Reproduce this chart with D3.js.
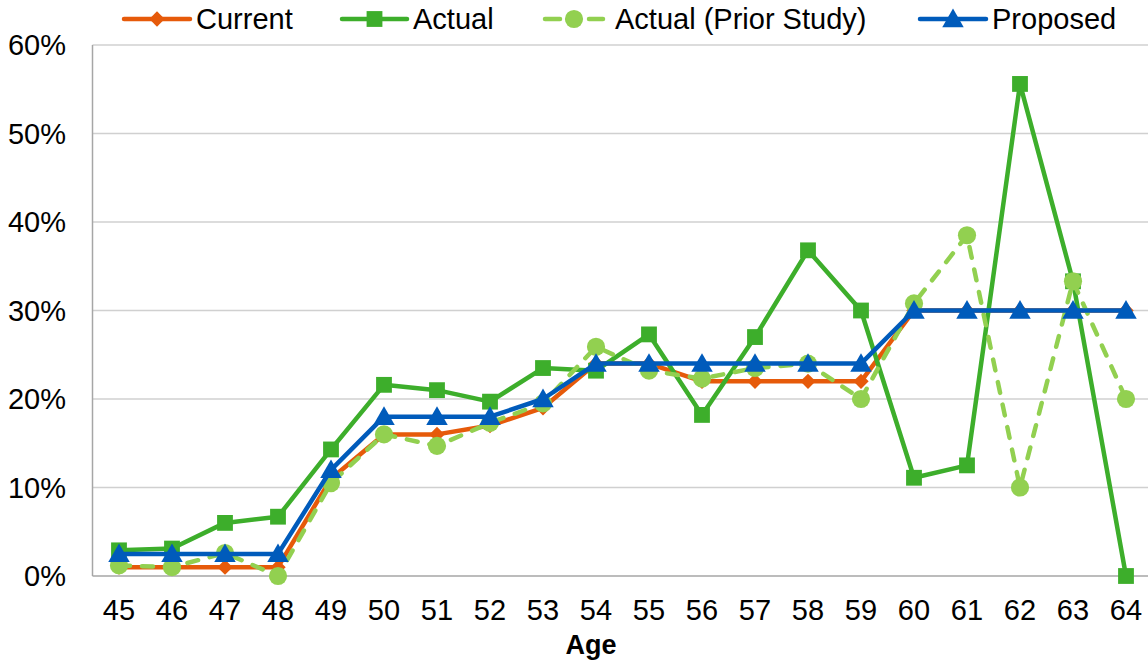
<!DOCTYPE html>
<html>
<head>
<meta charset="utf-8">
<script src="https://cdn.jsdelivr.net/npm/d3@7"></script>
<style>
  body { margin: 0; background: #fff; }
  svg { display: block; font-family: "Liberation Sans", Arial, sans-serif; }
</style>
</head>
<body>
<svg id="chart" width="1148" height="663"></svg>
<script>
// Chart values
var ages = [45, 46, 47, 48, 49, 50, 51, 52, 53, 54, 55, 56, 57, 58, 59, 60, 61, 62, 63, 64];
var current = [1, 1, 1, 1, 11, 16, 16, 17, 19, 24, 24, 22, 22, 22, 22, 30, 30, 30, 30, 30];
var actual = [2.9, 3.1, 6.0, 6.7, 14.3, 21.6, 21.0, 19.7, 23.5, 23.2, 27.3, 18.2, 27.0, 36.8, 30.0, 11.1, 12.5, 55.6, 33.3, 0];
var priorStudy = [1.2, 1.0, 2.6, 0, 10.5, 16.0, 14.7, 17.3, 19.5, 25.9, 23.2, 22.3, 23.5, 24.0, 20.0, 30.8, 38.5, 10.0, 33.3, 20.0];
var proposed = [2.5, 2.5, 2.5, 2.5, 12, 18, 18, 18, 20, 24, 24, 24, 24, 24, 24, 30, 30, 30, 30, 30];
var yTicks = [0, 10, 20, 30, 40, 50, 60];

var series = [
    { name: 'Current', values: current, color: '#E65A0A', marker: 'diamond', dash: null },
    { name: 'Actual', values: actual, color: '#3DAE2B', marker: 'square', dash: null },
    { name: 'Actual (Prior Study)', values: priorStudy, color: '#92D050', marker: 'circle', dash: '11,12' },
    { name: 'Proposed', values: proposed, color: '#005BBB', marker: 'triangle', dash: null }
];

var plotLeft = 92.5, plotTop = 45, plotBottom = 576, bandW = 53;
var fontSize = '29px';

var svg = d3.select('#chart');

var x = d3.scaleBand()
    .domain(ages)
    .range([plotLeft, plotLeft + bandW * ages.length]);

var y = d3.scaleLinear()
    .domain([0, 60])
    .range([plotBottom, plotTop]);

// Gridlines
svg.append('g')
    .selectAll('line')
    .data(yTicks.filter(function (d) { return d > 0; }))
    .enter().append('line')
    .attr('x1', plotLeft)
    .attr('x2', 1148)
    .attr('y1', function (d) { return y(d); })
    .attr('y2', function (d) { return y(d); })
    .style('stroke', '#D0D0D0')
    .style('stroke-width', 1.5);

// Axis lines
svg.append('line')
    .attr('x1', plotLeft).attr('x2', plotLeft)
    .attr('y1', plotTop).attr('y2', plotBottom)
    .style('stroke', '#A6A6A6').style('stroke-width', 1.5);
svg.append('line')
    .attr('x1', plotLeft).attr('x2', 1148)
    .attr('y1', plotBottom).attr('y2', plotBottom)
    .style('stroke', '#A6A6A6').style('stroke-width', 1.5);

// Y tick labels
svg.append('g')
    .selectAll('text')
    .data(yTicks)
    .enter().append('text')
    .attr('x', 66)
    .attr('y', function (d) { return y(d); })
    .attr('dy', '0.36em')
    .attr('text-anchor', 'end')
    .style('font-size', fontSize)
    .text(function (d) { return d + '%'; });

// X tick labels
svg.append('g')
    .selectAll('text')
    .data(ages)
    .enter().append('text')
    .attr('x', function (d) { return x(d) + x.bandwidth() / 2; })
    .attr('y', 620)
    .attr('text-anchor', 'middle')
    .style('font-size', fontSize)
    .text(function (d) { return d; });

svg.append('text')
    .attr('x', 591)
    .attr('y', 654)
    .attr('text-anchor', 'middle')
    .style('font-size', '27px')
    .style('font-weight', 'bold')
    .text('Age');

function markerPath(type) {
    if (type == 'diamond') return d3.symbol().type(d3.symbolDiamond2).size(150)();
    if (type == 'square') return d3.symbol().type(d3.symbolSquare).size(250)();
    if (type == 'circle') return d3.symbol().type(d3.symbolCircle).size(260)();
    return d3.symbol().type(d3.symbolTriangle).size(200)();
}

var line = d3.line()
    .x(function (d, i) { return x(ages[i]) + x.bandwidth() / 2; })
    .y(function (d) { return y(d); });

series.forEach(function (s) {
    var g = svg.append('g');
    g.append('path')
        .attr('d', line(s.values))
        .style('fill', 'none')
        .style('stroke', s.color)
        .style('stroke-width', 4.5)
        .style('stroke-linejoin', 'round')
        .style('stroke-linecap', s.dash ? 'round' : 'butt')
        .style('stroke-dasharray', s.dash);

    g.selectAll('path.mk')
        .data(s.values)
        .enter().append('path')
        .attr('class', 'mk')
        .attr('d', markerPath(s.marker))
        .attr('transform', function (d, i) {
            var dy = s.marker == 'triangle' ? 2 : 0;
            return 'translate(' + (x(ages[i]) + x.bandwidth() / 2) + ',' + (y(d) + dy) + ')';
        })
        .style('fill', s.color);
});

// Legend
var legendItems = [
    { x1: 124, x2: 190, tx: 196 },
    { x1: 342, x2: 407, tx: 413 },
    { x1: 545, x2: 603, tx: 615 },
    { x1: 920, x2: 986, tx: 992 }
];

series.forEach(function (s, i) {
    var li = legendItems[i];
    var g = svg.append('g');
    var mid = (li.x1 + li.x2) / 2;
    if (s.dash) {
        // dashed entry: short dash on each side of the marker
        [[li.x1, mid - 14], [mid + 15, li.x2]].forEach(function (seg) {
            g.append('line')
                .attr('x1', seg[0]).attr('x2', seg[1])
                .attr('y1', 19).attr('y2', 19)
                .style('stroke', s.color)
                .style('stroke-width', 4.5)
                .style('stroke-linecap', 'round');
        });
    } else {
        g.append('line')
            .attr('x1', li.x1).attr('x2', li.x2)
            .attr('y1', 19).attr('y2', 19)
            .style('stroke', s.color)
            .style('stroke-width', 4.5)
            .style('stroke-linecap', 'round');
    }
    g.append('path')
        .attr('d', markerPath(s.marker))
        .attr('transform', 'translate(' + mid + ',' + (s.marker == 'triangle' ? 21 : 19) + ')')
        .style('fill', s.color);
    g.append('text')
        .attr('x', li.tx)
        .attr('y', 19)
        .attr('dy', '0.36em')
        .style('font-size', fontSize)
        .text(s.name);
});
</script>
</body>
</html>
